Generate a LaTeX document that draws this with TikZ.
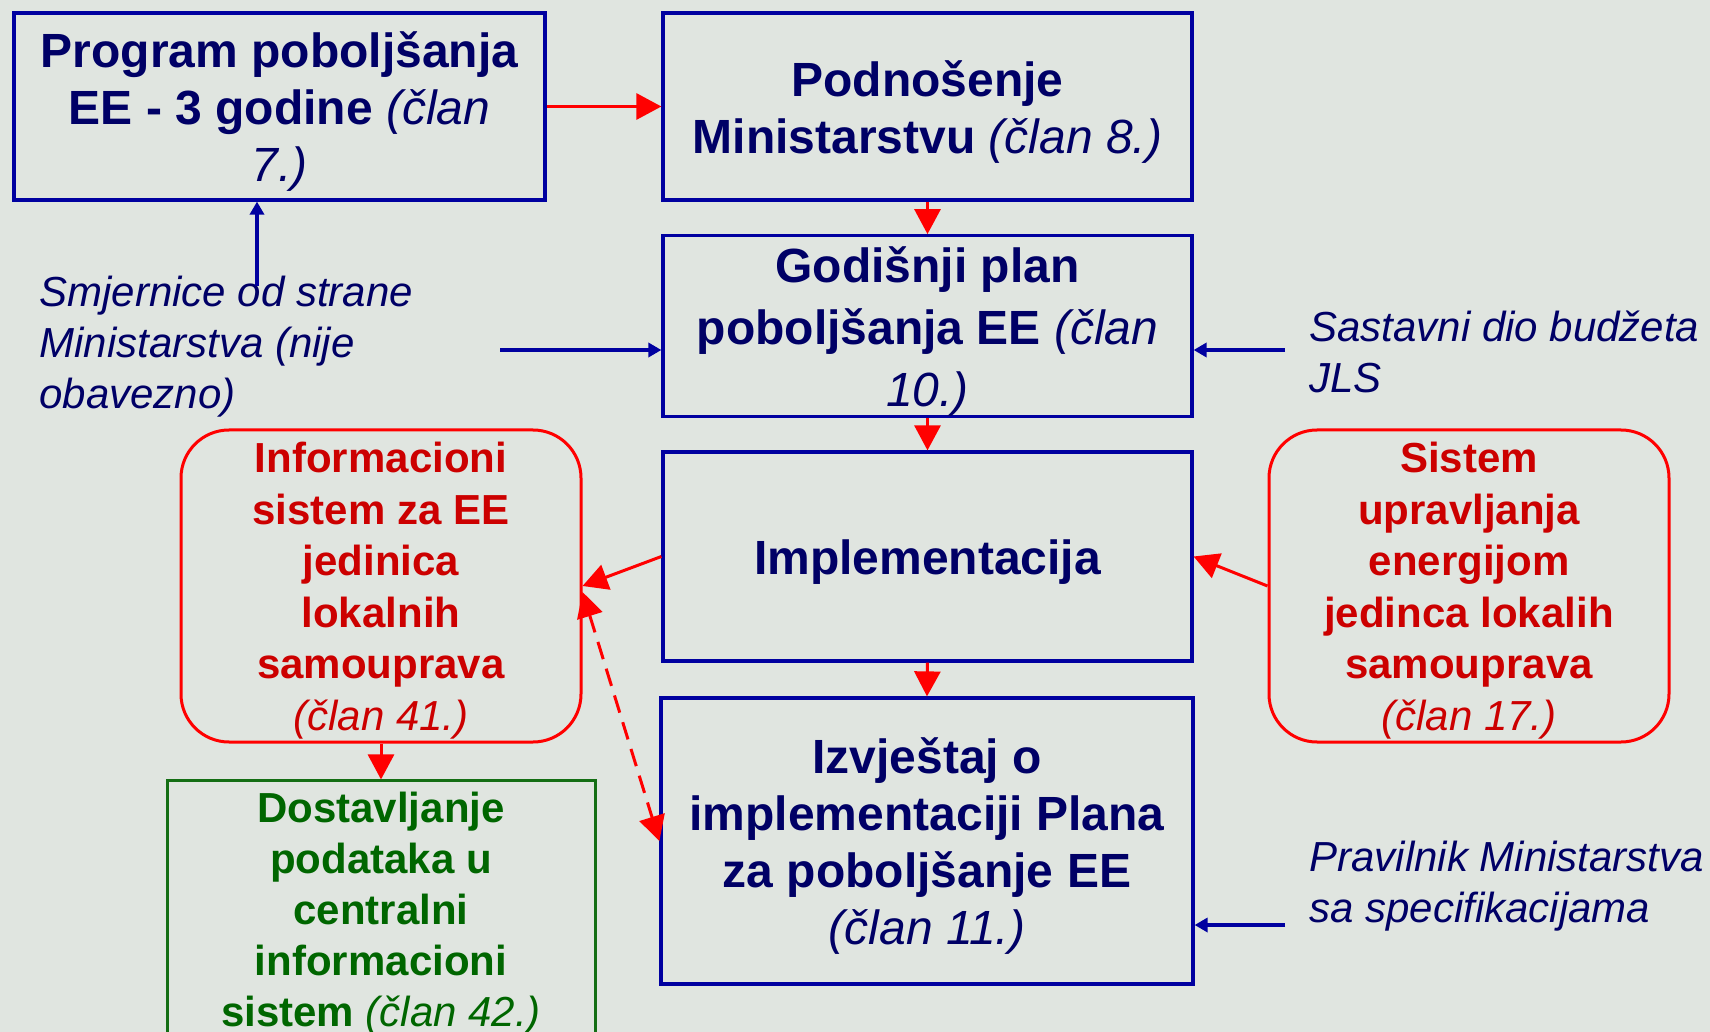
\documentclass[tikz,border=0pt]{standalone}
\usepackage{fontspec}
\setmainfont{Liberation Sans}
\usetikzlibrary{arrows.meta}
\definecolor{bgc}{RGB}{224,229,224}
\definecolor{boxblue}{RGB}{0,0,160}
\definecolor{navytext}{RGB}{0,0,102}
\definecolor{redtext}{RGB}{204,0,0}
\definecolor{redline}{RGB}{255,0,0}
\definecolor{greentext}{RGB}{0,102,0}
\definecolor{greenline}{RGB}{20,110,20}
\newcommand{\clanit}[1]{{\mdseries\itshape #1}}
\newcommand{\bstrut}{\rule{0pt}{23.3pt}}
\newcommand{\rstrut}{\rule{0pt}{19.8pt}}
\newcommand{\gstrut}{\rule{0pt}{20.7pt}}
\begin{document}
\begin{tikzpicture}[x=0.5pt,y=-0.5pt,
  bluebox/.style={draw=boxblue, line width=1.6pt, text=navytext,
    font=\fontsize{24}{28.5}\selectfont\bfseries, align=center, inner sep=0pt},
  redbox/.style={draw=redline, line width=1.5pt, rounded corners=24pt, text=redtext,
    font=\fontsize{21}{25.75}\selectfont\bfseries, align=center, inner sep=0pt},
  greenbox/.style={draw=greenline, line width=1.5pt, text=greentext,
    font=\fontsize{21}{25.5}\selectfont\bfseries, align=center, inner sep=0pt},
  sidetext/.style={text=navytext, font=\fontsize{21}{25.5}\selectfont\itshape,
    align=left, inner sep=0pt, anchor=west},
  redarrow/.style={draw=redline, line width=1.5pt, -{Triangle[length=12.5pt,width=13pt]}},
  dasharrow/.style={draw=redline, line width=1.5pt, dash pattern=on 9pt off 5pt,
    {Triangle[length=12.5pt,width=13pt]}-{Triangle[length=12.5pt,width=13pt]}},
  bluearrow/.style={draw=boxblue, line width=1.9pt, -{Triangle[length=6.5pt,width=7pt]}}
]
\useasboundingbox (0,0) rectangle (1710,1032);
\fill[bgc] (0,0) rectangle (1710,1032);

% main boxes
\node[bluebox, minimum width=265.5pt, minimum height=93.5pt] (b1) at (279.5,106.5)
  {\bstrut Program poboljšanja\\EE - 3 godine \clanit{(član}\\\clanit{7.)}};
\node[bluebox, minimum width=264.5pt, minimum height=93.5pt] (b2) at (927.5,106.5)
  {\bstrut Podnošenje\\Ministarstvu \clanit{(član 8.)}};
\node[bluebox, minimum width=264.5pt, minimum height=90pt,
  font=\fontsize{24}{31}\selectfont\bfseries] (b3) at (927.5,326)
  {\bstrut Godišnji plan\\poboljšanja EE \clanit{(član}\\\clanit{10.)}};
\node[bluebox, minimum width=264.5pt, minimum height=104.5pt] (b4) at (927.5,556.5)
  {\bstrut Implementacija};
\node[bluebox, minimum width=266pt, minimum height=143pt] (b5) at (927,841)
  {\bstrut Izvještaj o\\implementaciji Plana\\za poboljšanje EE\\\clanit{(član 11.)}};

% red rounded boxes
\node[redbox, minimum width=200pt, minimum height=156pt] (rl) at (381,586)
  {\rstrut Informacioni\\sistem za EE\\jedinica\\lokalnih\\samouprava\\\clanit{(član 41.)}};
\node[redbox, minimum width=200pt, minimum height=156pt] (rr) at (1469,586)
  {\rstrut Sistem\\upravljanja\\energijom\\jedinca lokalih\\samouprava\\\clanit{(član 17.)}};

% green box
\node[greenbox, minimum width=214pt, minimum height=126pt] (gr) at (381,908)
  {\gstrut Dostavljanje\\podataka u\\centralni\\informacioni\\sistem \clanit{(član 42.)}};

% side texts
\node[sidetext] (t1) at (39,347)
  {Smjernice od strane\\Ministarstva (nije\\obavezno)};
\node[sidetext] (t2) at (1309,352)
  {Sastavni dio budžeta\\JLS};
\node[sidetext] (t3) at (1309,886)
  {Pravilnik Ministarstva\\sa specifikacijama};

% red arrows
\draw[redarrow] (b1.east) -- (b2.west);
\draw[redarrow] (b2.south) -- (b3.north);
\draw[redarrow] (b3.south) -- (b4.north);
\draw[redarrow] (b4.south) -- (b5.north);
\draw[redarrow] (b4.west) -- (rl.east);
\draw[redarrow] (rr.west) -- (b4.east);
\draw[redarrow] (rl.south) -- (gr.north);
\draw[dasharrow] ([yshift=-3pt]rl.east) -- (b5.west);

% blue arrows
\coordinate (c1) at (257,286);
\coordinate (c2) at (500,350);
\coordinate (c3) at (1285,350);
\coordinate (c4) at (1285,925);
\draw[bluearrow] (c1) -- (c1 |- b1.south);
\draw[bluearrow] (c2) -- (c2 -| b3.west);
\draw[bluearrow] (c3) -- (c3 -| b3.east);
\draw[bluearrow] (c4) -- (c4 -| b5.east);
\end{tikzpicture}
\end{document}
